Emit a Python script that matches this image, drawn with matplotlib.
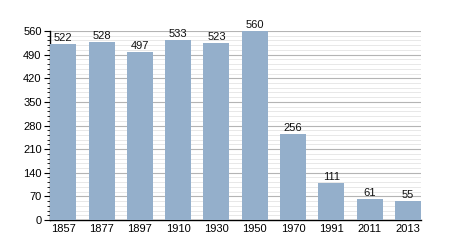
import matplotlib
matplotlib.use("Agg")
import matplotlib.pyplot as plt
from matplotlib.ticker import MultipleLocator

plt.rcParams["font.family"] = ["Liberation Sans", "DejaVu Sans"]

years = ["1857", "1877", "1897", "1910", "1930", "1950", "1970", "1991", "2011", "2013"]
population = [522, 528, 497, 533, 523, 560, 256, 111, 61, 55]

fig = plt.figure(figsize=(4.5, 2.5), dpi=100)
ax = fig.add_axes([0.111, 0.12, 0.825, 0.756])

x = range(len(years))
ax.bar(x, population, width=0.68, color="#94afcb", zorder=3)
for xi, v in zip(x, population):
    ax.text(xi, v + 3, str(v), ha="center", va="bottom", fontsize=8, color="#111111", zorder=4)

ax.set_xlim(-0.35, 9.35)
ax.set_ylim(0, 560)
ax.yaxis.set_major_locator(MultipleLocator(70))
ax.yaxis.set_minor_locator(MultipleLocator(14))
ax.grid(which="major", axis="y", color="#b4b4b4", linewidth=0.8, zorder=1)
ax.grid(which="minor", axis="y", color="#e4e4e4", linewidth=0.6, zorder=0)
ax.set_xticks(list(x))
ax.set_xticklabels(years)
ax.tick_params(axis="x", length=0, labelsize=8, pad=3)
ax.tick_params(axis="y", which="major", length=4, labelsize=8, pad=2)
ax.tick_params(axis="y", which="minor", length=2)
ax.spines["top"].set_visible(False)
ax.spines["right"].set_visible(False)
ax.spines["left"].set_linewidth(1.0)
ax.spines["bottom"].set_linewidth(1.0)

fig.savefig("out.png", dpi=100)
